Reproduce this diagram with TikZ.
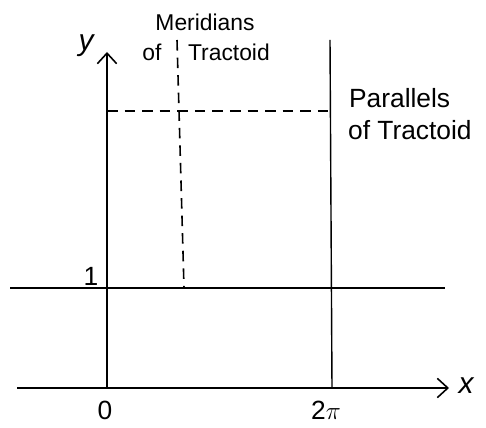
\documentclass[tikz,border=0pt]{standalone}
\usepackage{fontspec}
\setmainfont{Liberation Sans}
\usetikzlibrary{arrows.meta}
\begin{document}
\begin{tikzpicture}[x=0.02cm,y=-0.02cm,
  axis/.style={line width=0.8pt,-{Straight Barb[length=6pt,width=11pt,line width=0.9pt]}},
  solidline/.style={line width=0.8pt},
  dashline/.style={line width=0.9pt,dash pattern=on 6pt off 4pt},
  lbl/.style={font=\fontsize{13}{15}\selectfont,inner sep=1pt},
  biglbl/.style={font=\fontsize{15}{17}\selectfont,inner sep=1pt},
  mlbl/.style={font=\fontsize{17}{19}\selectfont\itshape,inner sep=1pt}]
\useasboundingbox (0,0) rectangle (486,428);
% coordinates
\coordinate (O) at (107,388);
\coordinate (ytip) at (107,52);
\coordinate (xstart) at (17,388);
\coordinate (xtip) at (449,388);
\coordinate (oneL) at (10,288);
\coordinate (oneR) at (445,288);
\coordinate (tpTop) at (330,40);
\coordinate (tpBot) at (332,388);
\coordinate (mTop) at (177,40);
\coordinate (mBot) at (184,288);
\coordinate (pL) at (107,111);
\coordinate (pR) at (331,111);
% axes
\draw[axis] (O) -- (ytip);
\draw[axis] (xstart) -- (xtip);
% lines
\draw[solidline] (oneL) -- (oneR);
\draw[solidline] (tpTop) -- (tpBot);
\draw[dashline] (mTop) -- (mBot);
\draw[dashline] (pL) -- (pR);
% labels
\node[mlbl] (ylab) at (86,46) {y};
\node[mlbl] (xlab) at (466,386) {x};
\node[biglbl] (one) at (91,276) {1};
\node[biglbl] (zero) at (105,410) {0};
\node[biglbl] (twopi) at (326,410) {2$\pi$};
\node[lbl] (mer) at (205,22) {Meridians};
\node[lbl] (of1) at (152,52) {of};
\node[lbl,anchor=west] (trac1) at (186,52) {Tractoid};
\node[biglbl,anchor=west] (par) at (347,98) {Parallels};
\node[biglbl,anchor=west] (of2) at (346,130) {of Tractoid};
\end{tikzpicture}
\end{document}
